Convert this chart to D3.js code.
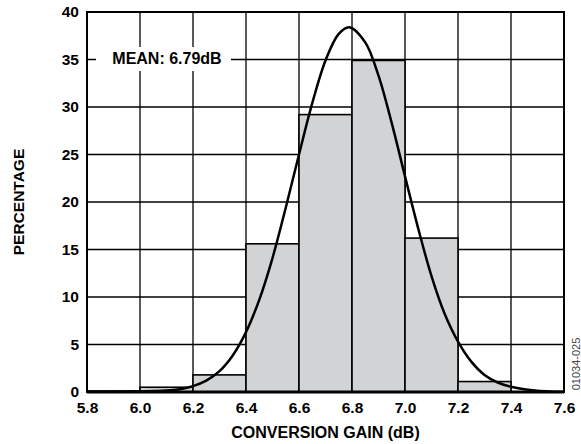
<!DOCTYPE html>
<html>
<head>
<meta charset="utf-8">
<script src="https://cdn.jsdelivr.net/npm/d3@7"></script>
<style>
  body { margin: 0; background: #fff; }
  text { font-family: "Liberation Sans", Arial, Helvetica, sans-serif; font-weight: bold; fill: #000; }
</style>
</head>
<body>
<svg id="chart" width="581" height="444"></svg>
<script>
// Histogram bins (lower edge, dB) and share of units in each bin (%)
const binStarts = [5.8, 6.0, 6.2, 6.4, 6.6, 6.8, 7.0, 7.2];
const binWidth = 0.2;
const binPercent = [0.1, 0.5, 1.8, 15.6, 29.2, 34.9, 16.2, 1.1];

// Fitted distribution curve, sampled every 0.05 dB
const fitGain = [5.80, 5.85, 5.90, 5.95, 6.00, 6.05, 6.10, 6.15, 6.20, 6.25, 6.30, 6.35,
                 6.40, 6.45, 6.50, 6.55, 6.60, 6.65, 6.70, 6.75, 6.79, 6.85, 6.90, 6.95,
                 7.00, 7.05, 7.10, 7.15, 7.20, 7.25, 7.30, 7.35, 7.40, 7.45, 7.50, 7.55, 7.60];
const fitPercent = [0.02, 0.03, 0.04, 0.06, 0.08, 0.10, 0.15, 0.30, 0.62, 1.20, 2.20, 3.85,
                    6.30, 9.70, 14.1, 19.4, 25.0, 30.4, 34.9, 37.7, 38.4, 36.8, 33.3, 28.3,
                    22.7, 17.2, 12.2, 8.2, 5.3, 3.2, 1.8, 1.0, 0.55, 0.28, 0.13, 0.06, 0.03];

// Axis ticks
const xTicks = [5.8, 6.0, 6.2, 6.4, 6.6, 6.8, 7.0, 7.2, 7.4, 7.6];
const yTicks = [0, 5, 10, 15, 20, 25, 30, 35, 40];

const meanLabel = "MEAN: 6.79dB";
const meanLabelGain = 6.0;
const meanLabelPercent = 35;

const svg = d3.select("#chart");
const margin = { left: 87, top: 12, right: 17, bottom: 52 };
const W = 581 - margin.left - margin.right;
const H = 444 - margin.top - margin.bottom;
const g = svg.append("g").attr("transform", `translate(${margin.left},${margin.top})`);

const x = d3.scaleLinear().domain([5.8, 7.6]).range([0, W]);
const y = d3.scaleLinear().domain([0, 40]).range([H, 0]);

// Grid
g.append("g").selectAll("line").data(xTicks.slice(1, -1)).join("line")
  .attr("x1", d => x(d)).attr("x2", d => x(d)).attr("y1", 0).attr("y2", H)
  .attr("stroke", "#000").attr("stroke-width", 1.3);
g.append("g").selectAll("line").data(yTicks.slice(1, -1)).join("line")
  .attr("y1", d => y(d)).attr("y2", d => y(d)).attr("x1", 0).attr("x2", W)
  .attr("stroke", "#000").attr("stroke-width", 1.3);

// Histogram bars
g.append("g").selectAll("rect").data(binStarts).join("rect")
  .attr("x", d => x(d))
  .attr("width", d => x(d + binWidth) - x(d))
  .attr("y", (d, i) => y(binPercent[i]))
  .attr("height", (d, i) => y(0) - y(binPercent[i]))
  .attr("fill", "#d1d3d4").attr("stroke", "#000").attr("stroke-width", 1.6);

// Fitted curve
const line = d3.line()
  .x(d => x(d[0]))
  .y(d => y(d[1]))
  .curve(d3.curveCatmullRom.alpha(0.5));
g.append("path")
  .datum(fitGain.map((v, i) => [v, fitPercent[i]]))
  .attr("d", line)
  .attr("fill", "none").attr("stroke", "#000").attr("stroke-width", 2.5);

// Plot frame
g.append("rect").attr("x", 0).attr("y", 0).attr("width", W).attr("height", H)
  .attr("fill", "none").attr("stroke", "#000").attr("stroke-width", 2);
g.append("line").attr("x1", 0).attr("x2", W).attr("y1", H).attr("y2", H)
  .attr("stroke", "#000").attr("stroke-width", 2.8);

// Axes labels
const xAxis = d3.axisBottom(x).tickValues(xTicks).tickFormat(d3.format(".1f")).tickSize(0).tickPadding(10);
const xa = g.append("g").attr("transform", `translate(0,${H})`).call(xAxis);
xa.select(".domain").remove();
xa.selectAll("text").attr("font-size", 15.5).attr("font-family", null).attr("fill", "#000");

const yAxis = d3.axisLeft(y).tickValues(yTicks).tickSize(0).tickPadding(8);
const ya = g.append("g").call(yAxis);
ya.select(".domain").remove();
ya.selectAll("text").attr("font-size", 15.5).attr("font-family", null).attr("fill", "#000");

svg.append("text")
  .attr("x", margin.left + W / 2).attr("y", 438)
  .attr("text-anchor", "middle").attr("font-size", 16)
  .text("CONVERSION GAIN (dB)");

svg.append("text")
  .attr("transform", `translate(24,${margin.top + H / 2}) rotate(-90)`)
  .attr("text-anchor", "middle").attr("font-size", 15.5)
  .text("PERCENTAGE");

// Mean annotation on a white box over the grid
const lx = x(meanLabelGain), ly = y(meanLabelPercent);
g.append("rect").attr("x", lx - 44).attr("y", ly - 12.5).attr("width", 135).attr("height", 24)
  .attr("fill", "#fff");
g.append("text").attr("x", lx + 27).attr("y", ly + 4)
  .attr("text-anchor", "middle").attr("font-size", 16)
  .text(meanLabel);

// Figure code
svg.append("text")
  .attr("transform", `translate(580,364) rotate(-90)`)
  .attr("text-anchor", "middle").attr("font-size", 11)
  .style("font-weight", "normal").style("fill", "#444")
  .text("01034-025");
</script>
</body>
</html>
